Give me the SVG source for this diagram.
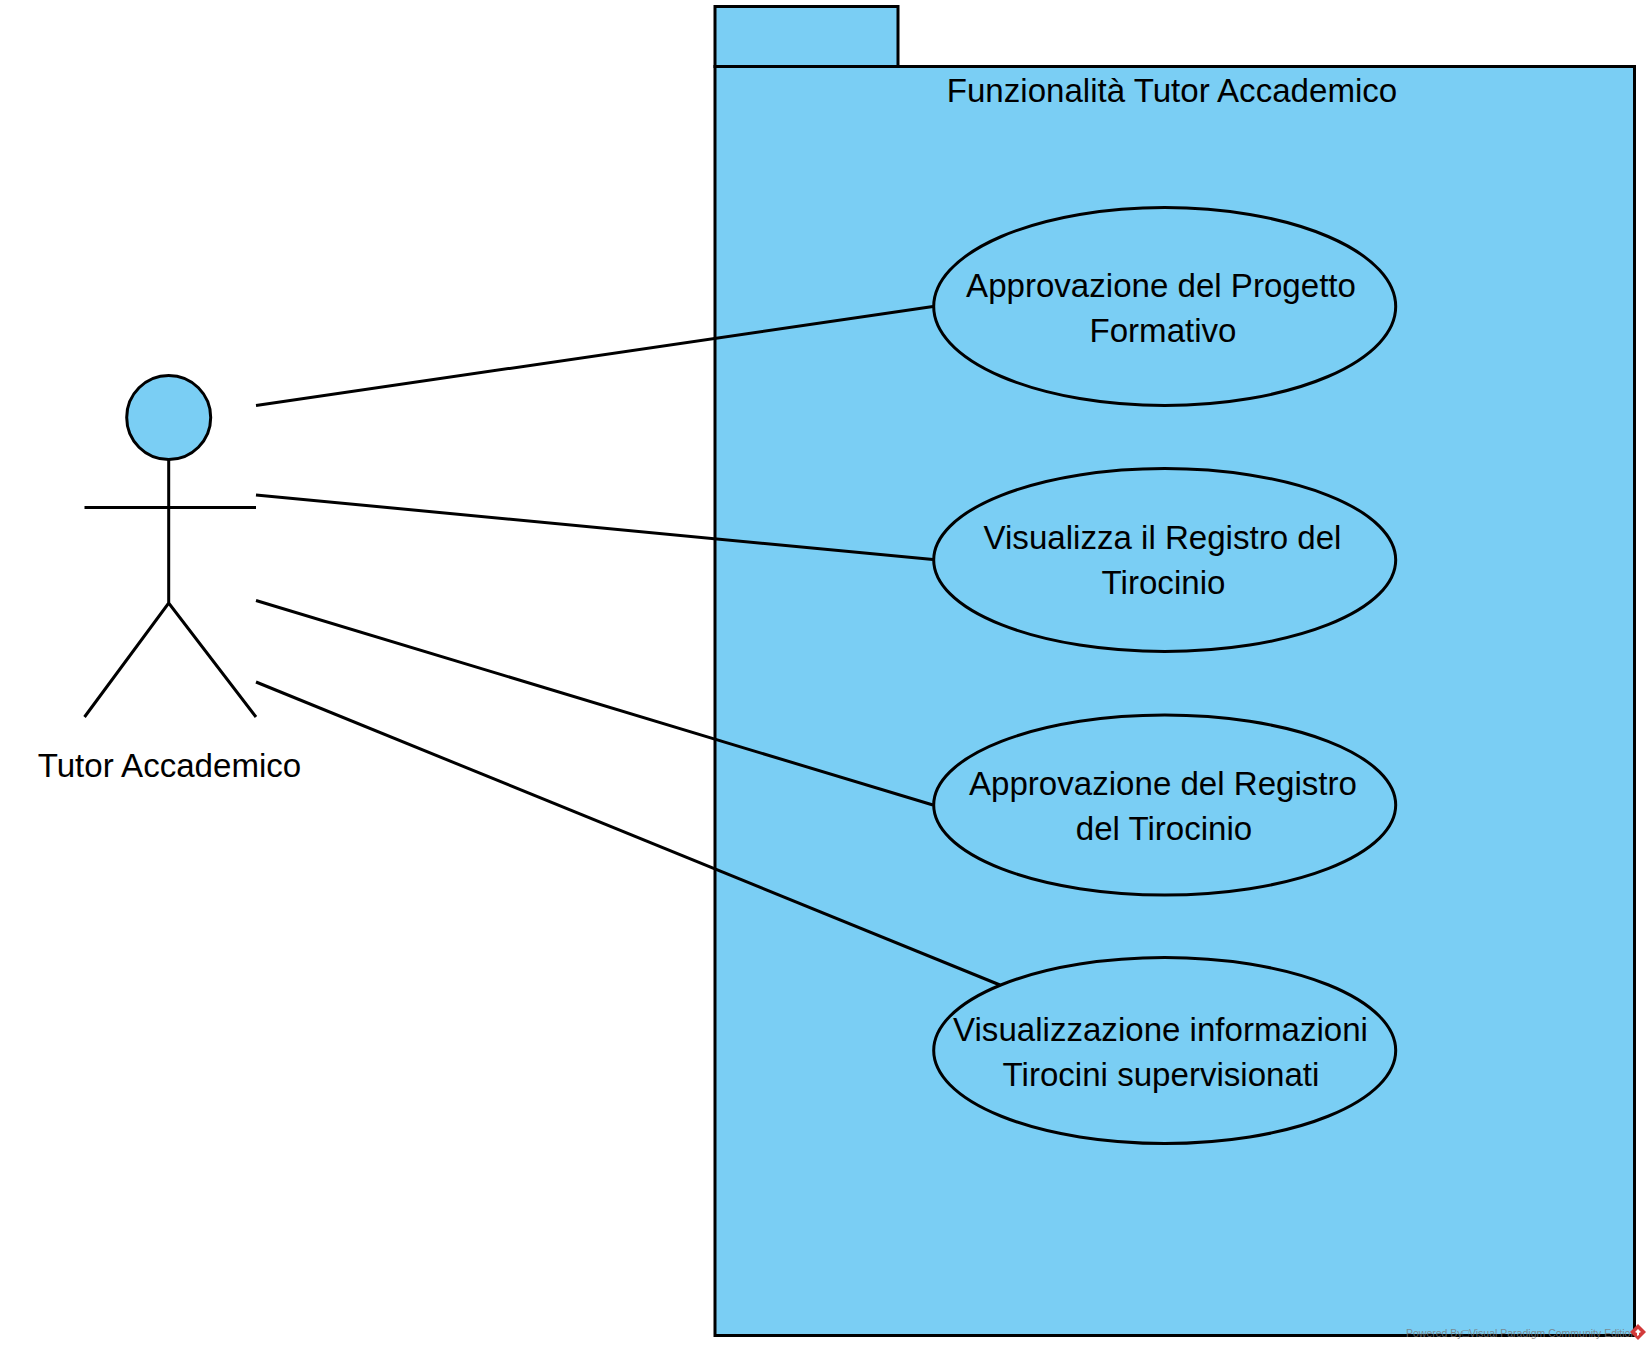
<svg xmlns="http://www.w3.org/2000/svg" width="1650" height="1350" viewBox="0 0 1650 1350">
<style>
.s{fill:#7ACEF4;stroke:#000;stroke-width:3}
.l{fill:none;stroke:#000;stroke-width:3}
.t{font-family:"Liberation Sans",Arial,sans-serif;font-size:33.1px;fill:#000;text-anchor:middle}
.w{font-family:"Liberation Sans",Arial,sans-serif;font-size:10.5px;fill:#777;fill-opacity:.8}
</style>
<rect width="1650" height="1350" fill="#fff"/>
<g id="package">
<rect class="s" x="715" y="6.5" width="183" height="60"/>
<rect class="s" x="715" y="66.5" width="919.5" height="1269"/>
<text class="t" x="1172" y="102">Funzionalità Tutor Accademico</text>
</g>
<g id="connectors">
<line class="l" x1="256" y1="405.5" x2="933" y2="306.5"/>
<line class="l" x1="256" y1="495" x2="933" y2="559.5"/>
<line class="l" x1="256" y1="600.5" x2="933" y2="805"/>
<line class="l" x1="256" y1="682" x2="1000" y2="985"/>
</g>
<g id="actor">
<circle class="s" cx="168.7" cy="417.5" r="42"/>
<path class="l" d="M168.7 460V603M84.5 507.5H256M84.5 717L168.7 603L256 717"/>
<text class="t" x="169.5" y="777">Tutor Accademico</text>
</g>
<g id="uc1">
<ellipse class="s" cx="1164.7" cy="306.5" rx="231" ry="99"/>
<text class="t" x="1161" y="297">Approvazione del Progetto</text>
<text class="t" x="1163" y="342">Formativo</text>
</g>
<g id="uc2">
<ellipse class="s" cx="1164.7" cy="560" rx="231" ry="91.5"/>
<text class="t" x="1162.5" y="549">Visualizza il Registro del</text>
<text class="t" x="1163.5" y="594">Tirocinio</text>
</g>
<g id="uc3">
<ellipse class="s" cx="1164.7" cy="805" rx="231" ry="90"/>
<text class="t" x="1163" y="795">Approvazione del Registro</text>
<text class="t" x="1164" y="840">del Tirocinio</text>
</g>
<g id="uc4">
<ellipse class="s" cx="1164.7" cy="1050.5" rx="231" ry="93"/>
<text class="t" x="1160.5" y="1041">Visualizzazione informazioni</text>
<text class="t" x="1161" y="1086">Tirocini supervisionati</text>
</g>
<g id="watermark">
<text class="w" x="1406" y="1337">Powered By□Visual Paradigm Community Edition</text>
<path fill="#d23a3a" d="M1638 1324l8 8-8 8-8-8z"/>
<path fill="#fff" d="M1638 1329l3 3-2 1v2l-2 1v-3l-2-1z"/>
</g>
</svg>
